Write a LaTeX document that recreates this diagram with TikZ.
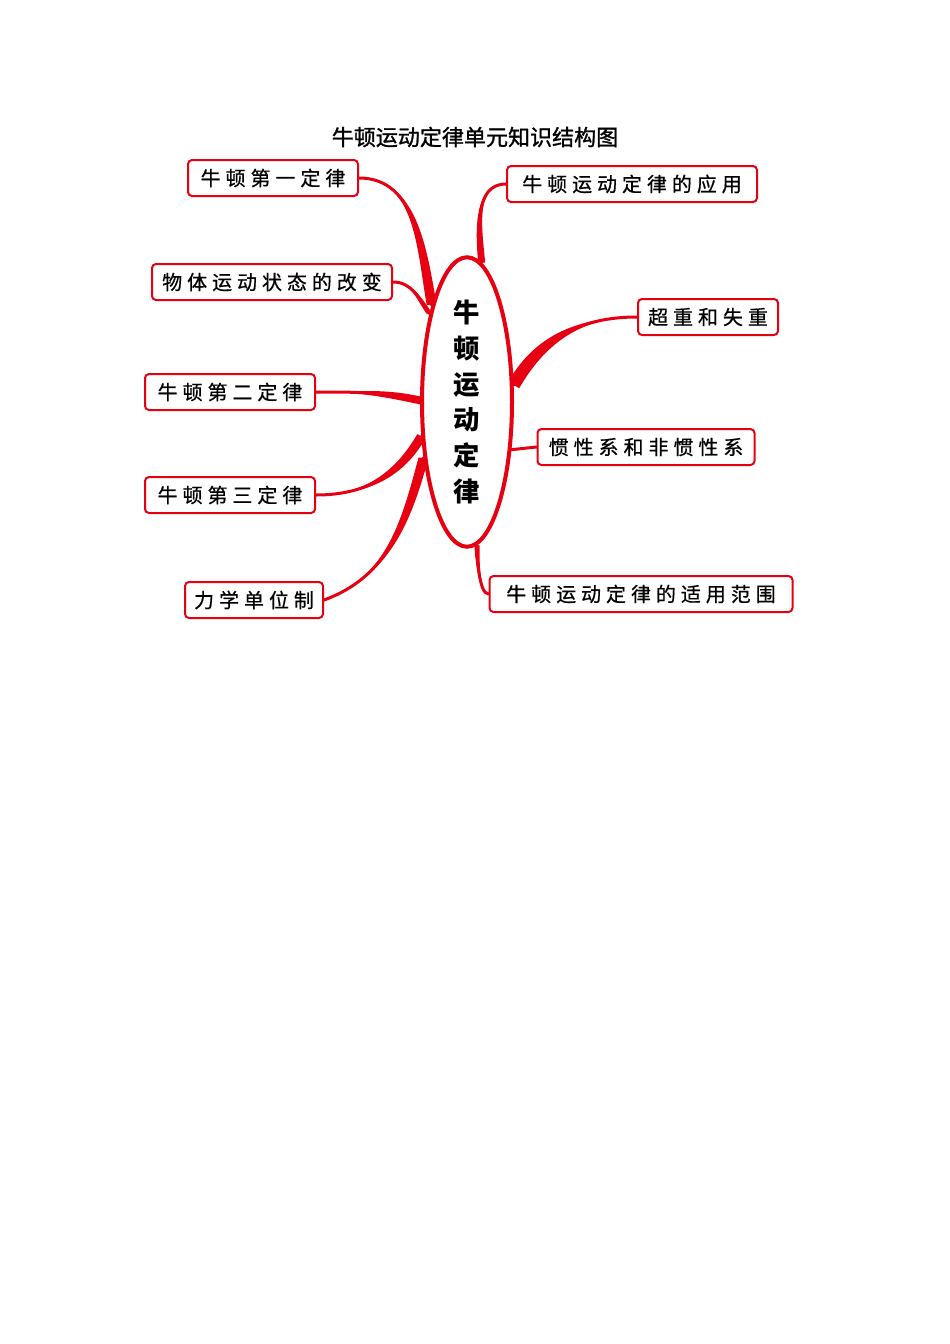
\documentclass[tikz,border=0pt]{standalone}
\usepackage{fontspec}
\setmainfont{Noto Sans CJK SC}
\newfontfamily\cjkramo[LetterSpace=25, FakeBold=0.6]{Noto Sans CJK SC}
\newfontfamily\cjktitulo[FakeBold=1.2]{Noto Sans CJK SC}
\usetikzlibrary{positioning, calc, shapes.geometric}
\definecolor{mmred}{RGB}{230,0,18}
\newcommand{\pxu}{0.6263pt}
\pgfdeclarelayer{fundo}
\pgfsetlayers{fundo,main}
% ramo afinado: #1 inicio, #2 fim, #3 out, #4 in, #5 meia largura no fim
\newcommand{\ramo}[5]{%
  \fill[mmred] (#1) to[out=#3,in=#4] ($(#2)+(#5)$) -- ($(#2)-(#5)$) to[out=#4,in=#3] (#1);
  \draw[galho] (#1) to[out=#3,in=#4] (#2);}

\begin{document}
\begin{tikzpicture}[
    x=\pxu, y=\pxu,
    galho/.style={draw=mmred, line width=3*\pxu, line cap=round},
    nucleo/.style={ellipse, draw=mmred, line width=4*\pxu, fill=white,
      minimum width=90*\pxu, minimum height=274*\pxu, inner sep=0pt, align=center,
      font=\fontsize{16.5}{22.5}\selectfont\bfseries},
    caixa/.style={draw=mmred, line width=2*\pxu, rounded corners=4*\pxu, fill=white,
      minimum height=36*\pxu, inner sep=0pt, text=black,
      font=\cjkramo\fontsize{12.5}{14}\selectfont},
    titulo/.style={font=\cjktitulo\fontsize{13.8}{16}\selectfont}
  ]
  \useasboundingbox (0,0) rectangle (950,-1344);

  % --- TITULO E NUCLEO ---
  \node[titulo] (title) at (475,-137) {牛顿运动定律单元知识结构图};
  \node[nucleo] (core) at (467,-402) {牛\\顿\\运\\动\\定\\律};

  % --- CAIXAS DA ESQUERDA ---
  \node[caixa, minimum width=170*\pxu] (lei1) at (273,-178) {牛顿第一定律};
  \node[caixa, minimum width=240*\pxu] (estado) at (272,-282) {物体运动状态的改变};
  \node[caixa, minimum width=170*\pxu] (lei2) at (230,-392) {牛顿第二定律};
  \node[caixa, minimum width=170*\pxu] (lei3) at (230,-495) {牛顿第三定律};
  \node[caixa, minimum width=138*\pxu] (unid) at (254,-600) {力学单位制};

  % --- CAIXAS DA DIREITA ---
  \node[caixa, minimum width=250*\pxu] (aplic) at (632,-184) {牛顿运动定律的应用};
  \node[caixa, minimum width=140*\pxu] (peso) at (708,-317) {超重和失重};
  \node[caixa, minimum width=217*\pxu] (refer) at (646,-447) {惯性系和非惯性系};
  \node[caixa, minimum width=303*\pxu] (limite) at (641,-594) {牛顿运动定律的适用范围};

  % --- RAMOS ---
  \begin{pgfonlayer}{fundo}
    \ramo{lei1.east}{core.110}{0}{100}{5,0}
    \ramo{estado.east}{core.113}{0}{125}{3,0}
    \ramo{lei2.east}{core.178}{0}{168}{0,4}
    \ramo{lei3.east}{core.217}{0}{240}{4,-2.3}
    \ramo{unid.east}{core.232}{20}{255}{5,0}
    \ramo{aplic.west}{core.84}{180}{95}{3.5,0}
    \ramo{peso.west}{core.20}{180}{60}{5.5,-3.2}
    \draw[galho] (refer.west) -- (core.313);
    \ramo{limite.west}{core.274}{180,looseness=0.5}{270}{2.5,0}
  \end{pgfonlayer}

\end{tikzpicture}
\end{document}
